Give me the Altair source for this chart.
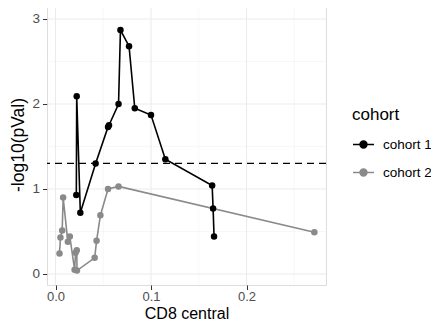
import altair as alt
import pandas as pd

# cohort 1 (black)
c1_x = [0.0218, 0.0222, 0.026, 0.042, 0.055, 0.056, 0.066, 0.068, 0.077, 0.083, 0.100, 0.115, 0.164, 0.165, 0.166]
c1_y = [0.93, 2.09, 0.72, 1.30, 1.73, 1.75, 2.00, 2.87, 2.68, 1.95, 1.87, 1.35, 1.04, 0.77, 0.44]
# cohort 2 (grey)
c2_x = [0.0042, 0.0052, 0.0070, 0.0080, 0.0129, 0.015, 0.020, 0.021, 0.0223, 0.0225, 0.041, 0.043, 0.047, 0.055, 0.066, 0.271]
c2_y = [0.24, 0.43, 0.51, 0.90, 0.38, 0.44, 0.05, 0.25, 0.28, 0.04, 0.19, 0.39, 0.69, 1.00, 1.03, 0.49]

x_major = [0.0, 0.1, 0.2]
x_minor = [0.05, 0.15, 0.25]
y_major = [0, 1, 2, 3]
y_minor = [0.5, 1.5, 2.5]
threshold = [1.30103]

df = pd.DataFrame({
    "x": c1_x + c2_x,
    "y": c1_y + c2_y,
    "cohort": ["cohort 1"] * len(c1_x) + ["cohort 2"] * len(c2_x),
})

xs = alt.Scale(domain=[-0.0089, 0.2832], nice=False, zero=False)
ys = alt.Scale(domain=[-0.13, 3.176], nice=False, zero=False)

color = alt.Color(
    "cohort:N",
    scale=alt.Scale(domain=["cohort 1", "cohort 2"], range=["#000000", "#8a8a8a"]),
    legend=alt.Legend(
        title="cohort",
        orient="none",
        legendX=305,
        legendY=103,
        titleFontSize=17,
        titleFontWeight="normal",
        titleColor="#000000",
        titlePadding=9,
        labelFontSize=13.5,
        labelColor="#000000",
        labelOffset=8,
        symbolType="M-1,0H1M-0.33,0A0.33,0.33,0,1,1,0.33,0A0.33,0.33,0,1,1,-0.33,0Z",
        symbolSize=441,
        symbolStrokeWidth=1.5,
        symbolOffset=0,
        rowPadding=10,
    ),
)

gx_major = alt.Chart(pd.DataFrame({"v": x_major})).mark_rule(color="#EBEBEB", strokeWidth=1.1).encode(x=alt.X("v:Q", scale=xs))
gx_minor = alt.Chart(pd.DataFrame({"v": x_minor})).mark_rule(color="#F2F2F2", strokeWidth=0.6).encode(x=alt.X("v:Q", scale=xs))
gy_major = alt.Chart(pd.DataFrame({"v": y_major})).mark_rule(color="#EBEBEB", strokeWidth=1.1).encode(y=alt.Y("v:Q", scale=ys))
gy_minor = alt.Chart(pd.DataFrame({"v": y_minor})).mark_rule(color="#F2F2F2", strokeWidth=0.6).encode(y=alt.Y("v:Q", scale=ys))

hline = alt.Chart(pd.DataFrame({"v": threshold})).mark_rule(
    color="#000000", strokeWidth=1.3, strokeDash=[7, 5]
).encode(y=alt.Y("v:Q", scale=ys))

xaxis = alt.Axis(values=x_major, format=".1f", title="CD8 central", grid=False, domain=False,
                 tickColor="#333333", tickSize=4.5, labelColor="#4D4D4D", labelFontSize=13,
                 titleFontSize=16, titleFontWeight="normal", titleColor="#000000", labelPadding=1, titlePadding=2)
yaxis = alt.Axis(values=y_major, format="d", title="-log10(pVal)", grid=False, domain=False,
                 tickColor="#333333", tickSize=4.5, labelColor="#4D4D4D", labelFontSize=13.5,
                 titleFontSize=17.5, titleFontWeight="normal", titleColor="#000000", labelPadding=3, titlePadding=4)

lines = alt.Chart(df).mark_line(strokeWidth=1.6).encode(
    x=alt.X("x:Q", scale=xs, axis=xaxis),
    y=alt.Y("y:Q", scale=ys, axis=yaxis),
    color=color,
    order="x:Q",
)
points = alt.Chart(df).mark_point(filled=True, size=42, opacity=1).encode(
    x=alt.X("x:Q", scale=xs),
    y=alt.Y("y:Q", scale=ys),
    color=color,
)

chart = alt.layer(gx_minor, gy_minor, gx_major, gy_major, hline, lines, points).properties(
    width=279, height=281,
    autosize=alt.AutoSizeParams(type="none"),
    padding={"left": 39, "top": -4, "right": 105, "bottom": 36},
).configure_view(stroke="#333333", strokeWidth=1.1).configure(font="Liberation Sans")

chart.save("out.html", embed_options={"renderer": "svg", "actions": False})
